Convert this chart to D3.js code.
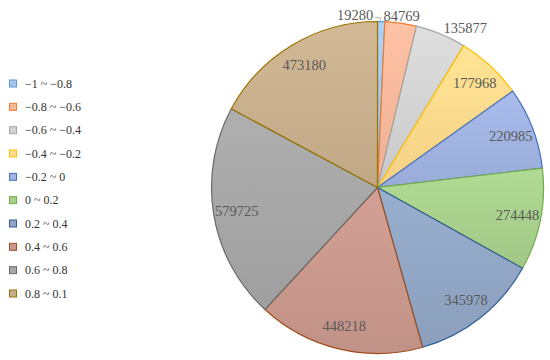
<!DOCTYPE html>
<html>
<head>
<meta charset="utf-8">
<script src="https://cdn.jsdelivr.net/npm/d3@7"></script>
<style>
  body { margin: 0; background: #fff; }
</style>
</head>
<body>
<div id="chart"></div>
<script>
// data
const categories = ["\u22121 ~ \u22120.8", "\u22120.8 ~ \u22120.6", "\u22120.6 ~ \u22120.4", "\u22120.4 ~ \u22120.2",
  "\u22120.2 ~ 0", "0 ~ 0.2", "0.2 ~ 0.4", "0.4 ~ 0.6", "0.6 ~ 0.8", "0.8 ~ 0.1"];
const counts = [19280, 84769, 135877, 177968, 220985, 274448, 345978, 448218, 579725, 473180];

// styling
const fillColors = ["#a6c7ea", "#f7b89c", "#d2d2d2", "#ffd98c", "#a0b2e0", "#a8d08c", "#91a6c4", "#c9988d", "#a6a6a6", "#c8af8d"];
const strokeColors = ["#5b9bd5", "#ed7d31", "#a5a5a5", "#ffc000", "#4472c4", "#70ad47", "#2e5e95", "#a0501e", "#6a6a6a", "#997300"];
const outsideLabels = [true, true, true, false, false, false, false, false, false, false];
const serif = "'Liberation Serif', 'Times New Roman', 'DejaVu Serif', serif";

const width = 550, height = 360;
const cx = 377.5, cy = 187.5, radius = 166;

const svg = d3.select("#chart").append("svg")
  .attr("width", width)
  .attr("height", height);

// gradient per slice, lighter on top
const defs = svg.append("defs");
fillColors.forEach((c, i) => {
  const grad = defs.append("linearGradient")
    .attr("id", "grad" + i)
    .attr("x1", 0).attr("y1", 0).attr("x2", 0).attr("y2", 1);
  grad.append("stop").attr("offset", "0%").attr("stop-color", d3.color(c).brighter(0.15));
  grad.append("stop").attr("offset", "100%").attr("stop-color", d3.color(c).darker(0.12));
});

const pieFn = d3.pie().sort(null).value(d => d);
const pieData = pieFn(counts);

const arcFn = d3.arc().innerRadius(0).outerRadius(radius);
const labelArcFn = d3.arc().innerRadius(radius * 0.86).outerRadius(radius * 0.86);
const outerArcFn = d3.arc().innerRadius(radius + 7).outerRadius(radius + 7);

const g = svg.append("g").attr("transform", `translate(${cx},${cy})`);

g.selectAll("path.slice")
  .data(pieData)
  .join("path")
  .attr("class", "slice")
  .attr("d", arcFn)
  .attr("fill", (d, i) => `url(#grad${i})`)
  .attr("stroke", (d, i) => strokeColors[i])
  .attr("stroke-width", 1.2);

// labels
g.selectAll("text.sliceLabel")
  .data(pieData)
  .join("text")
  .attr("class", "sliceLabel")
  .attr("font-family", serif)
  .attr("font-size", 14.5)
  .attr("fill", "#595959")
  .attr("transform", (d, i) => {
    let p = outsideLabels[i] ? outerArcFn.centroid(d) : labelArcFn.centroid(d);
    if (i === 0) p = [p[0] - 8, p[1]];
    return `translate(${p})`;
  })
  .attr("dy", "0.35em")
  .attr("text-anchor", (d, i) => {
    if (!outsideLabels[i]) return "middle";
    if (i === 0) return "end";
    const mid = (d.startAngle + d.endAngle) / 2;
    return mid > 0.3 ? "start" : "middle";
  })
  .text(d => d.value);

// leader line for the smallest slice
const small = pieData[0];
const edge = d3.arc().innerRadius(radius).outerRadius(radius).centroid(small);
const lp = outerArcFn.centroid(small);
g.append("polyline")
  .attr("points", [[lp[0] - 6, lp[1] + 3], [edge[0] - 1, lp[1] + 3], [edge[0] - 1, edge[1]]].map(p => p.join(",")).join(" "))
  .attr("fill", "none")
  .attr("stroke", "#a6a6a6")
  .attr("stroke-width", 0.8);

// legend
const legendY = d3.scalePoint().domain(categories).range([83.5, 293.5]);
const legend = svg.append("g").attr("class", "legend");
const items = legend.selectAll("g")
  .data(categories)
  .join("g")
  .attr("transform", d => `translate(9,${legendY(d)})`);

items.append("rect")
  .attr("x", 0.5).attr("y", -3.5)
  .attr("width", 7).attr("height", 7)
  .attr("fill", (d, i) => fillColors[i])
  .attr("stroke", (d, i) => strokeColors[i])
  .attr("stroke-width", 1);

items.append("text")
  .attr("class", "legendText")
  .attr("font-family", serif)
  .attr("font-size", 12)
  .attr("fill", "#333")
  .attr("x", 16)
  .attr("dy", "0.35em")
  .text(d => d);
</script>
</body>
</html>
